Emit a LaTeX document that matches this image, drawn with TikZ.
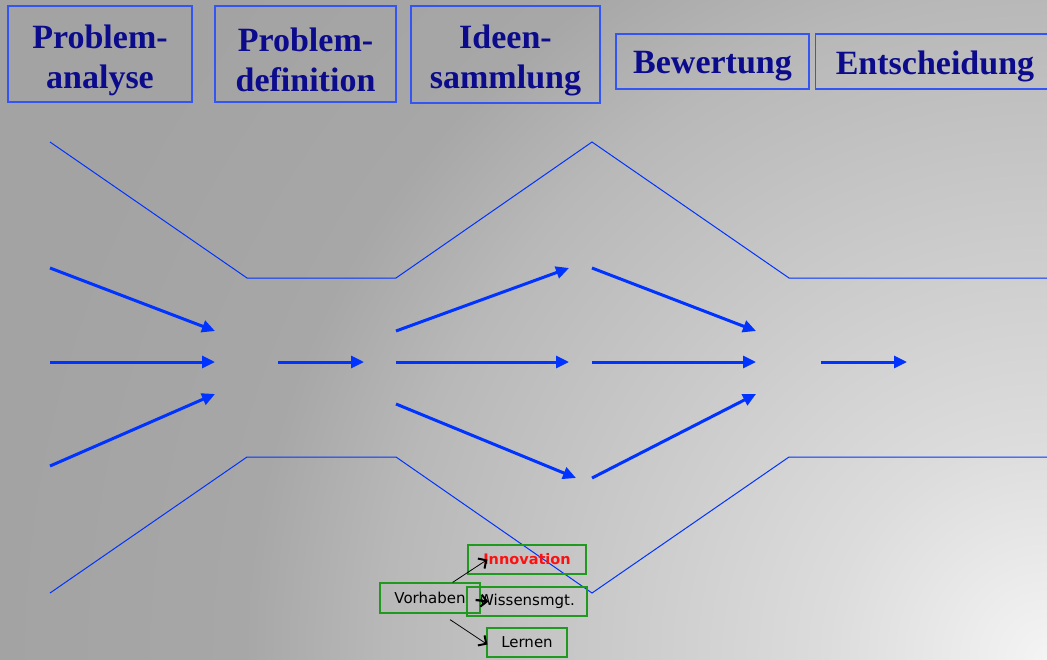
\documentclass[tikz,border=0pt]{standalone}
\usepackage{fontspec}
\setmainfont{Liberation Serif}[BoldFont={Liberation Serif Bold}]
\newfontfamily\handfont{DejaVu Sans}
\usetikzlibrary{arrows.meta,calc}
\definecolor{bgA}{HTML}{F4F4F4}
\definecolor{bgB}{HTML}{DCDCDC}
\definecolor{bgC}{HTML}{B8B8B8}
\definecolor{bgD}{HTML}{A7A7A7}
\definecolor{bgE}{HTML}{A3A3A3}
\definecolor{flowblue}{HTML}{0033FF}
\definecolor{boxblue}{HTML}{3355F5}
\definecolor{headnavy}{HTML}{0B0B8C}
\definecolor{boxgreen}{HTML}{1F9A1F}
\definecolor{innored}{HTML}{FF1010}
\pgfdeclareradialshading{bgshade}{\pgfpoint{0bp}{0bp}}{color(0bp)=(bgA); color(220bp)=(bgB); color(660bp)=(bgC); color(800bp)=(bgD); color(1050bp)=(bgE); color(1300bp)=(bgE)}
\tikzset{
  headframe/.style={draw=boxblue, line width=1.4pt, inner sep=0pt},
  headtext/.style={text=headnavy, align=center, inner sep=0pt, font=\bfseries\fontsize{34}{40}\selectfont},
  outline/.style={draw=flowblue, line width=1pt, line join=miter},
  flowarrow/.style={draw=flowblue, line width=3pt, -{Triangle[length=13pt,width=12pt]}},
  greenbox/.style={draw=boxgreen, line width=1.2pt, inner sep=0pt,
    font=\handfont\fontsize{15}{17}\selectfont},
  handarrow/.style={draw=black, line width=0.8pt, -{Straight Barb[length=6pt,width=12pt,line width=2pt]}},
  handthick/.style={draw=black, line width=2.2pt, -{Straight Barb[length=6pt,width=12pt,line width=2pt]}}
}
\begin{document}
\begin{tikzpicture}[x=1pt,y=-1pt]
\useasboundingbox (0,0) rectangle (1047,659);
\begin{scope}
  \clip (0,0) rectangle (1047,659);
  \node[inner sep=0pt, outer sep=0pt] (bg) at (1047,659) {\pgfuseshading{bgshade}};
\end{scope}

% header boxes
\node[headframe, minimum width=184pt, minimum height=96pt] (pa) at (100,54) {};
\node[headtext] (pat) at (100,60) {Problem-\\analyse};
\node[headframe, minimum width=181pt, minimum height=96pt] (pd) at (305.5,54) {};
\node[headtext] (pdt) at (305.5,60) {Problem-\\definition};
\node[headframe, minimum width=189pt, minimum height=97pt] (is) at (505.5,54.5) {};
\node[headtext] (ist) at (505.5,60.5) {Ideen-\\sammlung};
\node[headframe, minimum width=193pt, minimum height=55pt] (bw) at (712.5,61.5) {};
\node[headtext] (bwt) at (712.5,66) {Bewertung};
\node[headframe, minimum width=240pt, minimum height=55pt, anchor=west] (en) at (815,61.5) {};
\node[headtext] (ent) at (935,66) {Entscheidung};

% outlines
\draw[outline] (50,142) -- (247,278) -- (396,278) -- (592,142) -- (789,278) -- (1047,278);
\draw[outline] (50,593) -- (247,457) -- (396,457) -- (592,593) -- (789,457) -- (1047,457);

% flow arrows
\draw[flowarrow] (50,268) -- (215,331);
\draw[flowarrow] (50,362) -- (215,362);
\draw[flowarrow] (50,466) -- (215,394);
\draw[flowarrow] (278,362) -- (364,362);
\draw[flowarrow] (396,331) -- (569,268);
\draw[flowarrow] (396,362) -- (569,362);
\draw[flowarrow] (396,404) -- (576,478);
\draw[flowarrow] (592,268) -- (756,331);
\draw[flowarrow] (592,362) -- (756,362);
\draw[flowarrow] (592,478) -- (756,394);
\draw[flowarrow] (821,362) -- (907,362);

% bottom mind map
\node[greenbox, minimum width=118pt, minimum height=29pt, text=innored, font=\handfont\bfseries\fontsize{14.5}{17}\selectfont] (innov) at (527,559.5) {Innovation};
\node[greenbox, minimum width=120pt, minimum height=29pt] (wissen) at (527,601.5) {Wissensmgt.};
\node[greenbox, minimum width=80pt, minimum height=29pt] (lernen) at (527,642.5) {Lernen};
\node[greenbox, minimum width=100pt, minimum height=30pt] (vorhaben) at (430,598) {Vorhaben};

\draw[handarrow] ([xshift=-28pt]vorhaben.north east) -- ([xshift=20pt]innov.west);
\draw[handthick] ($(vorhaben.east)+(-5,2)$) -- ($(wissen.west)+(22,0)$);
\draw[handarrow] ($(vorhaben.south)+(20,6)$) -- ($(lernen.west)+(1,2)$);
\end{tikzpicture}
\end{document}
